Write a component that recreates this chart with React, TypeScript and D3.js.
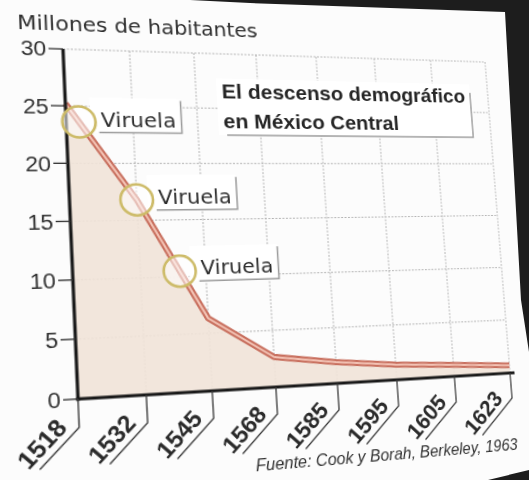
import { useMemo } from 'react'
import * as d3 from 'd3'

// datos (Cook y Borah)
const years = ['1518', '1532', '1545', '1568', '1585', '1595', '1605', '1623']
const population = [25.2, 16.8, 6.3, 2.65, 1.9, 1.375, 1.075, 0.73]
const yTicks = [0, 5, 10, 15, 20, 25, 30]
// epidemics, as a position along the category axis (index between years)
const epidemicAt = [0.19, 1.0, 1.6]
const epidemicLabel = 'Viruela'
const titleLines = ['El descenso demográfico', 'en México Central']
const yTitle = 'Millones de habitantes'
const source = 'Fuente: Cook y Borah, Berkeley, 1963'

const W = 529
const H = 480
const PLOT = { left: 70, right: 497, top: 55, bottom: 386 }
// where the plot corners land in the photographed page (TL, TR, BR, BL)
const PAGE_CORNERS = [
  [63, 49],
  [485, 62],
  [510, 373],
  [78, 399],
]

const SANS = '"DejaVu Sans", sans-serif'
const ARIAL = '"Liberation Sans", Arial, sans-serif'

// flat -> photo perspective as a css matrix3d
function homography(src: number[][], dst: number[][]): string {
  const M: number[][] = []
  for (let i = 0; i < 4; i++) {
    const [x, y] = src[i]
    const [X, Y] = dst[i]
    M.push([x, y, 1, 0, 0, 0, -x * X, -y * X, X])
    M.push([0, 0, 0, x, y, 1, -x * Y, -y * Y, Y])
  }
  const n = 8
  for (let c = 0; c < n; c++) {
    let p = c
    for (let r = c + 1; r < n; r++) if (Math.abs(M[r][c]) > Math.abs(M[p][c])) p = r
    ;[M[c], M[p]] = [M[p], M[c]]
    for (let r = 0; r < n; r++) {
      if (r === c) continue
      const f = M[r][c] / M[c][c]
      for (let k = c; k <= n; k++) M[r][k] -= f * M[c][k]
    }
  }
  const [a, b, c, d, e, f, g, h] = M.map((r, i) => r[n] / r[i])
  return `matrix3d(${a},${d},0,${g},${b},${e},0,${h},0,0,1,0,${c},${f},0,1)`
}

export default function App() {
  const x = d3.scalePoint<string>().domain(years).range([PLOT.left, PLOT.right]).padding(0)
  const y = d3.scaleLinear().domain([0, 30]).range([PLOT.bottom, PLOT.top])

  const pts = years.map((yr, i) => ({ yr, v: population[i] }))
  const line = d3
    .line<{ yr: string; v: number }>()
    .x((d) => x(d.yr) ?? 0)
    .y((d) => y(d.v))
  const area = d3
    .area<{ yr: string; v: number }>()
    .x((d) => x(d.yr) ?? 0)
    .y0(y(0))
    .y1((d) => y(d.v))

  const x0 = x(years[0]) ?? 0
  const step = x.step()
  const epidemics = epidemicAt.map((p) => {
    const i = Math.min(Math.floor(p), years.length - 2)
    const v = d3.interpolateNumber(population[i], population[i + 1])(p - i)
    return { cx: x0 + p * step, cy: y(v) }
  })

  const transform = useMemo(
    () =>
      homography(
        [
          [PLOT.left, PLOT.top],
          [PLOT.right, PLOT.top],
          [PLOT.right, PLOT.bottom],
          [PLOT.left, PLOT.bottom],
        ],
        PAGE_CORNERS,
      ),
    [],
  )

  const grid = '#b4b4b4'

  return (
    <div>
      <svg width={W} height={H} style={{ position: 'fixed', left: 0, top: 0 }}>
        <rect width={W} height={H} fill="#fcfcfc" />
        <polygon points="190,0 529,0 529,352 521,300 505,12 250,3" fill="#1d1d1d" />
        <polygon points="488,480 529,470 529,480" fill="#1d1d1d" />
      </svg>
      <svg
        width={W}
        height={H}
        style={{ position: 'fixed', left: 0, top: 0, transformOrigin: '0 0', transform }}
      >
        {/* grid */}
        <g stroke={grid} strokeWidth={1} strokeDasharray="2,1.5">
          {yTicks.slice(1).map((t) => (
            <line key={t} x1={PLOT.left} x2={PLOT.right} y1={y(t)} y2={y(t)} />
          ))}
          {years.slice(1).map((yr) => (
            <line key={yr} x1={x(yr)} x2={x(yr)} y1={y(30)} y2={y(0)} />
          ))}
        </g>

        {/* area + line */}
        <path d={area(pts) ?? ''} fill="#f1e3d8" fillOpacity={0.9} />
        <path d={line(pts) ?? ''} fill="none" stroke="#c86f5e" strokeWidth={6} strokeLinejoin="round" />
        <path d={line(pts) ?? ''} fill="none" stroke="#f3c4b6" strokeWidth={2} strokeLinejoin="round" />

        {/* axes */}
        <g stroke="#1a1a1a">
          <line x1={PLOT.left} x2={PLOT.left} y1={y(30)} y2={y(0) + 1.5} strokeWidth={3} />
          <line x1={PLOT.left - 1.5} x2={PLOT.right + 5} y1={y(0)} y2={y(0)} strokeWidth={3} />
        </g>
        {yTicks.map((t) => (
          <g key={t} transform={`translate(0,${y(t)})`}>
            <line x1={PLOT.left - 13} x2={PLOT.left} stroke="#333" strokeWidth={1.3} />
            <text
              x={PLOT.left - 15}
              dy="0.36em"
              textAnchor="end"
              fontFamily={ARIAL}
              fontSize={20.5}
              fill="#333"
            >
              {t}
            </text>
          </g>
        ))}
        {years.map((yr) => {
          const px = x(yr) ?? 0
          const b = y(0)
          return (
            <g key={yr}>
              <path
                d={`M${px},${b}L${px},${b + 26}L${px - 35.5},${b + 61.5}`}
                fill="none"
                stroke="#3a3a3a"
                strokeWidth={1.3}
              />
              <text
                transform={`translate(${px - 9.5},${b + 26.5}) rotate(-45)`}
                textAnchor="end"
                fontFamily={ARIAL}
                fontWeight="bold"
                fontSize={22.5}
                fill="#2a2a2a"
              >
                {yr}
              </text>
            </g>
          )
        })}

        {/* epidemic markers */}
        {epidemics.map((e, i) => {
          const tx = e.cx + 20
          const base = e.cy + 4
          const right = tx + 75
          return (
            <g key={i}>
              <rect x={e.cx + 10} y={base - 28} width={right - e.cx - 10} height={34} fill="#fff" />
              <path
                d={`M${right},${base - 26}L${right},${base + 6}L${e.cx + 18},${base + 6}`}
                fill="none"
                stroke="#9c9c9c"
                strokeWidth={1.5}
              />
              <circle cx={e.cx} cy={e.cy} r={15} fill="#fff" fillOpacity={0.55} stroke="#cdbb68" strokeWidth={2.5} />
              <text x={tx} y={base} fontFamily={SANS} fontSize={20} fill="#2e2e2e">
                {epidemicLabel}
              </text>
            </g>
          )
        })}

        {/* title box */}
        <rect x={212} y={80} width={265} height={57} fill="#fff" />
        <path d="M477,89L477,137L220,137" fill="none" stroke="#9c9c9c" strokeWidth={1.5} />
        {titleLines.map((t, i) => (
          <text
            key={t}
            x={217}
            y={100 + i * 30}
            fontFamily={ARIAL}
            fontWeight="bold"
            fontSize={21}
            fill="#262626"
          >
            {t}
          </text>
        ))}

        <text x={30} y={37} fontFamily={SANS} fontSize={20} fill="#2e2e2e">
          {yTitle}
        </text>
        <text x={499} y={465} textAnchor="end" fontFamily={ARIAL} fontStyle="italic" fontSize={16} fill="#333">
          {source}
        </text>
      </svg>
    </div>
  )
}
